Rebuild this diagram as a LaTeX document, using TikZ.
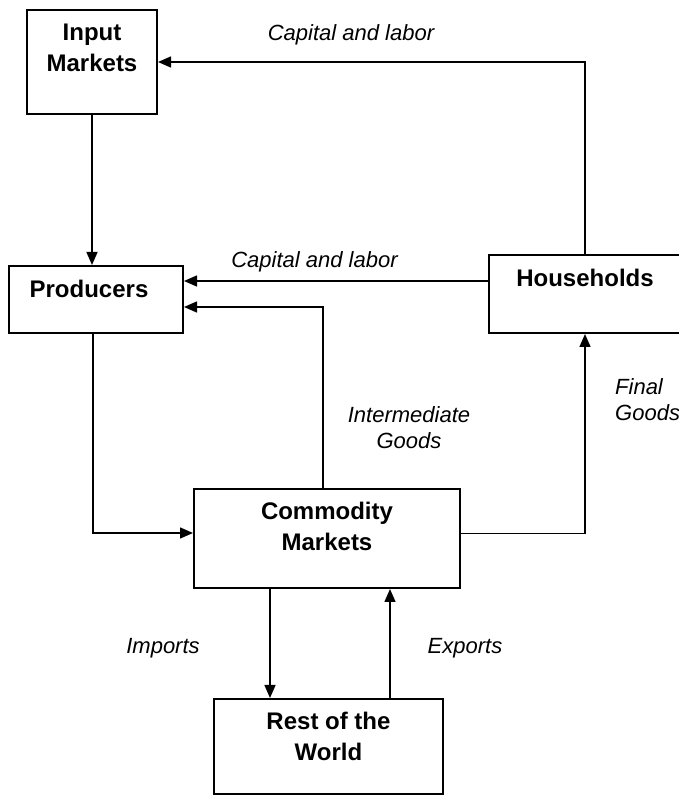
\documentclass[tikz,border=0pt]{standalone}
\usepackage{fontspec}
\setmainfont{Liberation Sans}
\usetikzlibrary{arrows.meta,positioning}

\begin{document}
\begin{tikzpicture}[x=1pt,y=1pt]
\tikzstyle{sector}=[draw,line width=2pt,inner sep=0pt]
\tikzstyle{secname}=[inner sep=0pt,align=center,
  font=\fontsize{24}{31}\selectfont\bfseries]
\tikzstyle{flowlbl}=[inner sep=0pt,font=\fontsize{22}{26}\selectfont\itshape]
\tikzstyle{flow}=[line width=1.5pt,-{Triangle[length=13pt,width=11pt]}]

\useasboundingbox (0,0) rectangle (679,796);

%boxes of the sectors
\node[sector,minimum width=130pt,minimum height=104pt] (inp) at (92,734) {};
\node[sector,minimum width=174pt,minimum height=67pt] (prod) at (96,496.5) {};
\node[sector,minimum width=192pt,minimum height=78pt] (hh) at (585,502) {};
\node[sector,minimum width=266pt,minimum height=99pt] (com) at (327,257.5) {};
\node[sector,minimum width=229pt,minimum height=95pt] (rest) at (328.5,49.5) {};

%names of the sectors
\node[secname,below=14.5pt of inp.north] (inptxt) {Input\\Markets};
\node[secname,below=14.5pt of prod.north,xshift=-7pt] (prodtxt) {Producers};
\node[secname,below=14.5pt of hh.north] (hhtxt) {Households};
\node[secname,below=13.5pt of com.north] (comtxt) {Commodity\\Markets};
\node[secname,below=13.5pt of rest.north] (resttxt) {Rest of the\\World};

%flows between the sectors
\draw[flow] (hh.north) |- (inp.east);
\draw[flow] (inp.south) -- (inp.south |- prod.north);
\draw[flow] ([yshift=13pt]hh.west) -- ([yshift=13pt]hh.west -| prod.east);
\draw[flow] ([xshift=-4pt]com.north) |- ([yshift=-7.5pt]prod.east);
\draw[flow] ([xshift=-3pt]prod.south) |- ([yshift=5.5pt]com.west);
\draw[flow] ([yshift=5pt]com.east) -| (hh.south);
\draw[flow] ([xshift=-57pt]com.south) -- ([xshift=-57pt]com.south |- rest.north);
\draw[flow] ([xshift=63pt]com.south |- rest.north) -- ([xshift=63pt]com.south);

%labels of the flows
\node[flowlbl] (cap1) at (351,761) {Capital and labor};
\node[flowlbl] (cap2) at (314.5,534) {Capital and labor};
\node[flowlbl,align=center] (inter) at (409,368) {Intermediate\\Goods};
\node[flowlbl,align=left,anchor=west] (fin) at (615,396) {Final\\Goods};
\node[flowlbl] (imp) at (163,148) {Imports};
\node[flowlbl] (exp) at (465,148) {Exports};

\end{tikzpicture}
\end{document}
